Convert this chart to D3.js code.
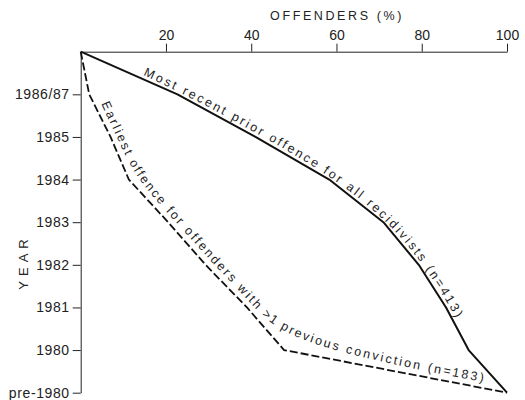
<!DOCTYPE html>
<html>
<head>
<meta charset="utf-8">
<script src="https://cdn.jsdelivr.net/npm/d3@7"></script>
<style>
  body { margin: 0; background: #fff; }
  svg { font-family: "Liberation Sans", Arial, sans-serif; }
  .axis text { font-size: 14px; fill: #222; }
  .axis.y text { letter-spacing: 0.6px; }
  .axis path, .axis line { stroke: #222; stroke-width: 1; }
</style>
</head>
<body>
<div id="chart"></div>
<script>
// year levels, top (origin) first
const yearLabels = ['1986/87', '1985', '1984', '1983', '1982', '1981', '1980', 'pre-1980'];
const xTicks = [20, 40, 60, 80, 100];

// cumulative % of offenders reached at each level (origin, then each year)
const recentPct = [0, 22.7, 41, 58.3, 71, 79.3, 85.7, 91, 100];
const earliestPct = [0, 2, 7, 11.3, 20.5, 29.3, 39, 47.7, 100];

const recentLabel = 'Most recent prior offence for all recidivists (n=413)';
const earliestLabel = 'Earliest offence for offenders with >1 previous conviction (n=183)';

const width = 525;
const height = 400;

const svg = d3.select('#chart').append('svg')
  .attr('width', width)
  .attr('height', height);

const levels = ['origin'].concat(yearLabels);

const x = d3.scaleLinear()
  .domain([0, 100])
  .range([80.7, 507]);

const y = d3.scalePoint()
  .domain(levels)
  .range([51.7, 392.7]);

// top axis
const xAxis = d3.axisTop(x)
  .tickValues(xTicks)
  .tickSize(8)
  .tickSizeOuter(0)
  .tickPadding(4);

svg.append('g')
  .classed('axis', true)
  .attr('transform', `translate(0,${y('origin')})`)
  .call(xAxis);

const yAxis = d3.axisLeft(y)
  .tickValues(yearLabels)
  .tickSize(8)
  .tickSizeOuter(0)
  .tickPadding(3);

svg.append('g')
  .classed('axis y', true)
  .attr('transform', `translate(${x(0)},0)`)
  .call(yAxis);

svg.append('text')
  .attr('x', 337)
  .attr('y', 20)
  .attr('text-anchor', 'middle')
  .style('font-size', '12.5px')
  .style('letter-spacing', '2.6px')
  .style('fill', '#222')
  .text('OFFENDERS (%)');

svg.append('text')
  .attr('transform', 'translate(28,262) rotate(-90)')
  .attr('text-anchor', 'middle')
  .style('font-size', '13px')
  .style('letter-spacing', '5px')
  .style('fill', '#222')
  .text('YEAR');

const line = d3.line()
  .x(d => x(d[0]))
  .y(d => y(d[1]));

// smoother guide for the labels so glyphs don't bunch at the bends
const guide = d3.line()
  .x(d => x(d[0]))
  .y(d => y(d[1]))
  .curve(d3.curveBasis);

const recentData = recentPct.map((v, i) => [v, levels[i]]);
const earliestData = earliestPct.map((v, i) => [v, levels[i]]);

svg.append('path')
  .attr('d', line(recentData))
  .attr('fill', 'none')
  .attr('stroke', '#111')
  .attr('stroke-width', 2)
  .attr('stroke-linejoin', 'round');

svg.append('path')
  .attr('d', line(earliestData))
  .attr('fill', 'none')
  .attr('stroke', '#111')
  .attr('stroke-width', 1.8)
  .attr('stroke-dasharray', '8,3');

const defs = svg.append('defs');
defs.append('path').attr('id', 'recentGuide').attr('d', guide(recentData));
defs.append('path').attr('id', 'earliestGuide').attr('d', guide(earliestData));

// length along a path until a point passes the test
function lengthAt(node, test) {
  const total = node.getTotalLength();
  for (let l = 0; l <= total; l += 0.5) {
    if (test(node.getPointAtLength(l))) return l;
  }
  return total;
}

function curveLabel(id, label, dy, startTest, endTest) {
  const node = document.getElementById(id);
  const start = lengthAt(node, startTest);
  const end = lengthAt(node, endTest);
  const t = svg.append('text')
    .attr('dy', dy)
    .style('font-size', '12.5px')
    .style('fill', '#222');
  const tp = t.append('textPath')
    .attr('href', '#' + id)
    .attr('startOffset', start)
    .text(label);
  const natural = tp.node().getComputedTextLength();
  const spacing = (end - start - natural) / label.length;
  t.style('letter-spacing', spacing + 'px');
}

curveLabel('recentGuide', recentLabel, -4, p => p.x >= 141, p => p.y >= 322);
curveLabel('earliestGuide', earliestLabel, -6, p => p.y >= 106, p => p.x >= 484);
</script>
</body>
</html>
